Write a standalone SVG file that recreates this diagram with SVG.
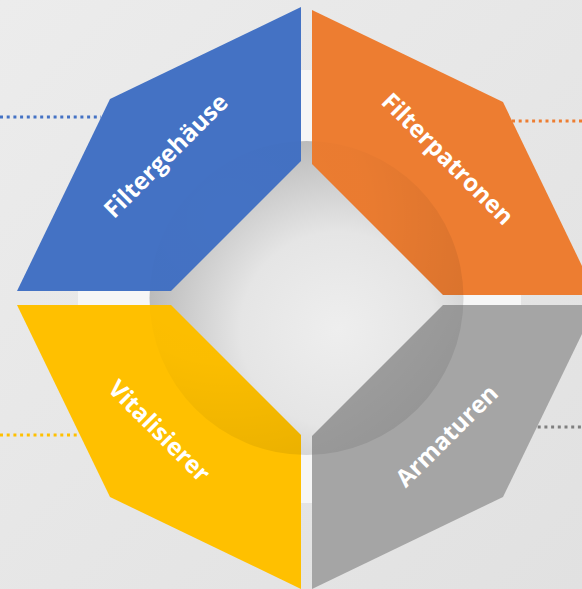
<svg xmlns="http://www.w3.org/2000/svg" width="582" height="589" viewBox="0 0 582 589">
<defs>
<style>
.lbl{font-family:"Open Sans","Noto Sans","DejaVu Sans",sans-serif;font-weight:700;font-size:24px;fill:#ffffff;text-anchor:middle;dominant-baseline:central}
.dot{fill:none;stroke-width:3;stroke-dasharray:3 3.7}
.bar{fill:#f6f6f6}
</style>
<linearGradient id="bg" x1="0" y1="0" x2="1" y2="1">
<stop offset="0" stop-color="#ececec"/>
<stop offset="1" stop-color="#e1e1e1"/>
</linearGradient>
<radialGradient id="disc" cx="0.6" cy="0.6" r="0.62">
<stop offset="0" stop-color="#eeeeee"/>
<stop offset="0.5" stop-color="#e5e5e5"/>
<stop offset="1" stop-color="#b9b9b9"/>
</radialGradient>
<radialGradient id="shade" cx="0.25" cy="0.25" r="0.9">
<stop offset="0" stop-color="#000" stop-opacity="0"/>
<stop offset="0.5" stop-color="#000" stop-opacity="0.015"/>
<stop offset="1" stop-color="#000" stop-opacity="0.1"/>
</radialGradient>
<clipPath id="shapesClip">
<polygon points="301,7 110,99 17,291 171,291 301,161"/>
<polygon points="312,10 503,102 596,295 443,295 312,164"/>
<polygon points="17,305 171,305 301,435 301,589 110,497"/>
<polygon points="443,305 596,305 503,497 312,589 312,436"/>
</clipPath>
</defs>
<rect x="0" y="0" width="582" height="589" fill="url(#bg)"/>
<g id="frame">
<rect class="bar" x="301" y="70" width="11" height="80"/>
<rect class="bar" x="78" y="291" width="80" height="14"/>
<rect class="bar" x="445" y="295" width="76" height="10"/>
<rect class="bar" x="301" y="430" width="11" height="73"/>
<circle cx="306.5" cy="298" r="157" fill="url(#disc)"/>
</g>
<g id="connectors">
<line class="dot" x1="0" y1="117" x2="101" y2="117" stroke="#4472c4"/>
<line class="dot" x1="512" y1="121" x2="582" y2="121" stroke="#ed7d31"/>
<line class="dot" x1="0" y1="435" x2="79" y2="435" stroke="#ffc000"/>
<line class="dot" x1="531" y1="427" x2="582" y2="427" stroke="#7f7f7f"/>
</g>
<g id="node-filtergehaeuse">
<polygon points="301,7 110,99 17,291 171,291 301,161" fill="#4472c4"/>
</g>
<g id="node-filterpatronen">
<polygon points="312,10 503,102 596,295 443,295 312,164" fill="#ed7d31"/>
</g>
<g id="node-vitalisierer">
<polygon points="17,305 171,305 301,435 301,589 110,497" fill="#ffc000"/>
</g>
<g id="node-armaturen">
<polygon points="443,305 596,305 503,497 312,589 312,436" fill="#a5a5a5"/>
</g>
<circle cx="306.5" cy="298" r="157" fill="url(#shade)" clip-path="url(#shapesClip)"/>
<g id="labels">
<text class="lbl" transform="translate(165,155) rotate(-45)">Filtergehäuse</text>
<text class="lbl" transform="translate(448.5,158) rotate(45)">Filterpatronen</text>
<text class="lbl" transform="translate(160,430) rotate(45)">Vitalisierer</text>
<text class="lbl" transform="translate(446,435) rotate(-45)">Armaturen</text>
</g>
</svg>
